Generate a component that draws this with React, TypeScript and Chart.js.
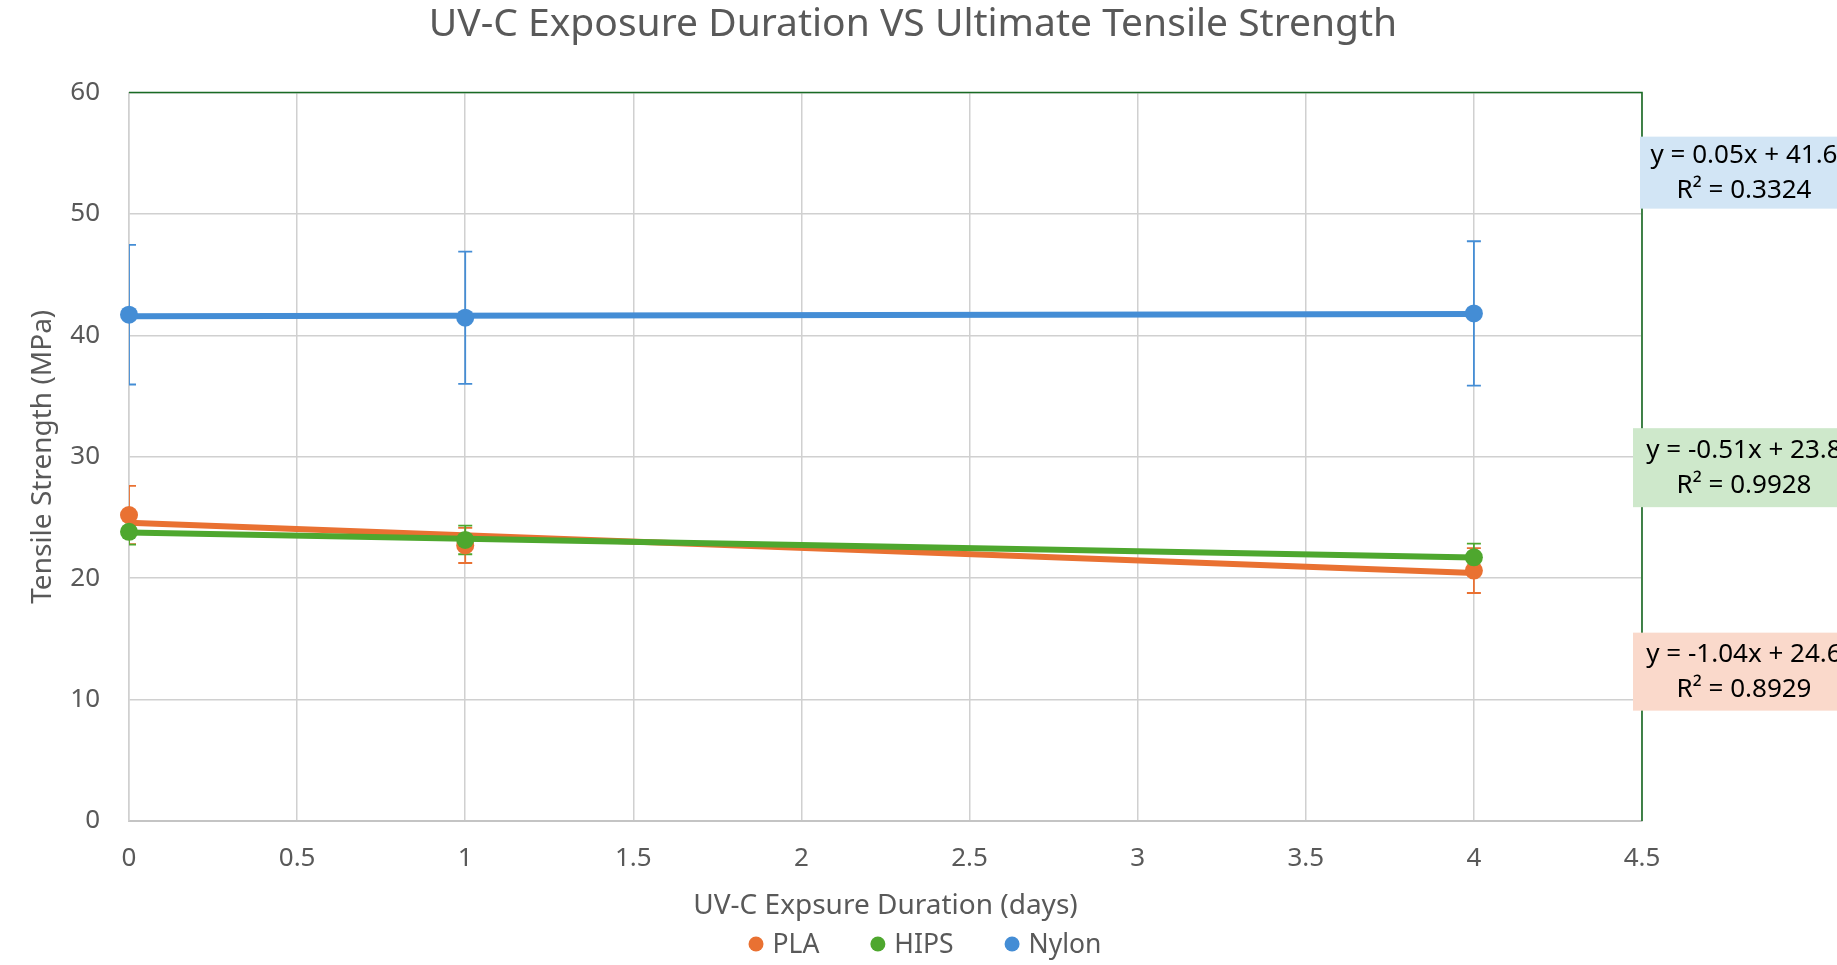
import React, { useRef, useEffect } from 'react';
import { Chart, registerables } from 'chart.js';

Chart.register(...registerables);

// exposure days and measured tensile strength (MPa) with std. deviation
const days = [0, 1, 4];
const plaStrength = [25.2, 22.7, 20.63];
const plaError = [2.4, 1.45, 1.85];
const hipsStrength = [23.82, 23.15, 21.72];
const hipsError = [1.06, 1.18, 1.12];
const nylonStrength = [41.7, 41.45, 41.8];
const nylonError = [5.75, 5.45, 5.95];

const seriesNames = ['PLA', 'HIPS', 'Nylon'];
const xTickStep = 0.5;
const yTickStep = 10;

// trendline labels as printed on the chart
const plaTrendText = ['y = -1.04x + 24.6', 'R² = 0.8929'];
const hipsTrendText = ['y = -0.51x + 23.8', 'R² = 0.9928'];
const nylonTrendText = ['y = 0.05x + 41.6', 'R² = 0.3324'];

const chartTitle = 'UV-C Exposure Duration VS Ultimate Tensile Strength';

const FONT = '"Noto Sans", sans-serif';
const GREY_TEXT = '#595959';
const COLORS = ['#E97132', '#4EA72E', '#448DD5'];
const BOX_COLORS = ['#FAD9CB', '#CEE8CB', '#D2E5F5'];
const W = 1837;
const H = 965;

const linearFit = (xs: number[], ys: number[]) => {
  const n = xs.length;
  const mx = xs.reduce((a, b) => a + b, 0) / n;
  const my = ys.reduce((a, b) => a + b, 0) / n;
  let sxy = 0;
  let sxx = 0;
  xs.forEach((x, i) => {
    sxy += (x - mx) * (ys[i] - my);
    sxx += (x - mx) * (x - mx);
  });
  const slope = sxy / sxx;
  return { slope, intercept: my - slope * mx };
};

const toPoints = (ys: number[]) => days.map((d, i) => ({ x: d, y: ys[i] }));

const trendPoints = (ys: number[]) => {
  const { slope, intercept } = linearFit(days, ys);
  const x0 = Math.min(...days);
  const x1 = Math.max(...days);
  return [
    { x: x0, y: intercept + slope * x0 },
    { x: x1, y: intercept + slope * x1 },
  ];
};

// vertical error bars, clipped to the plot area like Excel does
const errorBars = {
  id: 'errorBars',
  beforeDatasetsDraw(chart: any) {
    const { ctx, chartArea, scales } = chart;
    ctx.save();
    ctx.beginPath();
    ctx.rect(chartArea.left, chartArea.top, chartArea.right - chartArea.left, chartArea.bottom - chartArea.top);
    ctx.clip();
    chart.data.datasets.forEach((ds: any) => {
      if (!ds.errors) return;
      ctx.strokeStyle = ds.backgroundColor;
      ctx.lineWidth = 1.8;
      ds.data.forEach((p: any, i: number) => {
        const x = scales.x.getPixelForValue(p.x);
        const yTop = scales.y.getPixelForValue(p.y + ds.errors[i]);
        const yBot = scales.y.getPixelForValue(p.y - ds.errors[i]);
        ctx.beginPath();
        ctx.moveTo(x, yTop);
        ctx.lineTo(x, yBot);
        ctx.moveTo(x - 7, yTop);
        ctx.lineTo(x + 7, yTop);
        ctx.moveTo(x - 7, yBot);
        ctx.lineTo(x + 7, yBot);
        ctx.stroke();
      });
    });
    ctx.restore();
  },
};

// plot-area border (top and right in dark green)
const plotBorder = {
  id: 'plotBorder',
  afterDraw(chart: any) {
    const { ctx, chartArea } = chart;
    ctx.save();
    ctx.strokeStyle = '#196B24';
    ctx.lineWidth = 1.6;
    ctx.beginPath();
    ctx.moveTo(chartArea.left, chartArea.top);
    ctx.lineTo(chartArea.right, chartArea.top);
    ctx.lineTo(chartArea.right, chartArea.bottom);
    ctx.stroke();
    ctx.restore();
  },
};

// chart title, centred over the whole chart object (not just the plot)
const topTitle = {
  id: 'topTitle',
  afterDraw(chart: any) {
    const { ctx } = chart;
    ctx.save();
    ctx.font = `39px ${FONT}`;
    ctx.fillStyle = GREY_TEXT;
    ctx.textAlign = 'center';
    ctx.textBaseline = 'alphabetic';
    ctx.fillText(chartTitle, 913, 36);
    ctx.restore();
  },
};

// trendline equation boxes to the right of the plot
const trendBoxes = {
  id: 'trendBoxes',
  afterDraw(chart: any) {
    const { ctx, chartArea, scales } = chart;
    const boxes = [
      { text: plaTrendText, at: 12.3, dx: -9, h: 78 },
      { text: hipsTrendText, at: 29.1, dx: -9, h: 79 },
      { text: nylonTrendText, at: 53.4, dx: -2, h: 72 },
    ];
    ctx.save();
    boxes.forEach((b, i) => {
      const cy = scales.y.getPixelForValue(b.at);
      const left = chartArea.right + b.dx;
      ctx.fillStyle = BOX_COLORS[i];
      ctx.fillRect(left, cy - b.h / 2, W - left, b.h);
      ctx.fillStyle = '#000';
      ctx.font = `26px ${FONT}`;
      ctx.textAlign = 'center';
      ctx.textBaseline = 'middle';
      ctx.fillText(b.text[0], 1744, cy - 17);
      ctx.fillText(b.text[1], 1744, cy + 18);
    });
    ctx.restore();
  },
};

// legend row under the axis title
const bottomLegend = {
  id: 'bottomLegend',
  afterDraw(chart: any) {
    const { ctx } = chart;
    ctx.save();
    ctx.font = `26.5px ${FONT}`;
    ctx.textBaseline = 'middle';
    ctx.textAlign = 'left';
    const r = 7.5;
    const gapText = 9;
    const gapItem = 51;
    const widths = seriesNames.map((n) => 2 * r + gapText + ctx.measureText(n).width);
    const total = widths.reduce((a, b) => a + b, 0) + gapItem * (widths.length - 1);
    let x = 925 - total / 2;
    const y = 944;
    seriesNames.forEach((n, i) => {
      ctx.fillStyle = COLORS[i];
      ctx.beginPath();
      ctx.arc(x + r, y, r, 0, Math.PI * 2);
      ctx.fill();
      ctx.fillStyle = GREY_TEXT;
      ctx.fillText(n, x + 2 * r + gapText, y + 1);
      x += widths[i] + gapItem;
    });
    ctx.restore();
  },
};

const pointSet = (label: string, ys: number[], errs: number[], color: string, order: number) => ({
  label,
  data: toPoints(ys),
  errors: errs,
  backgroundColor: color,
  borderColor: color,
  pointRadius: 9,
  pointHoverRadius: 9,
  pointBorderWidth: 0,
  showLine: false,
  clip: false,
  order,
});

const trendSet = (label: string, ys: number[], color: string, order: number) => ({
  label,
  data: trendPoints(ys),
  borderColor: color,
  backgroundColor: color,
  borderWidth: 6,
  pointRadius: 0,
  showLine: true,
  order,
});

const App: React.FC = () => {
  const canvasRef = useRef<HTMLCanvasElement>(null);
  const chartRef = useRef<Chart | null>(null);

  useEffect(() => {
    if (!canvasRef.current) return;
    const ctx = canvasRef.current.getContext('2d');
    if (!ctx) return;

    chartRef.current = new Chart(ctx, {
      type: 'scatter',
      data: {
        datasets: [
          pointSet(seriesNames[0], plaStrength, plaError, COLORS[0], 3),
          pointSet(seriesNames[1], hipsStrength, hipsError, COLORS[1], 2),
          pointSet(seriesNames[2], nylonStrength, nylonError, COLORS[2], 1),
          trendSet('PLA trend', plaStrength, COLORS[0], 5),
          trendSet('HIPS trend', hipsStrength, COLORS[1], 4),
          trendSet('Nylon trend', nylonStrength, COLORS[2], 6),
        ] as any,
      },
      options: {
        responsive: false,
        animation: false,
        devicePixelRatio: 1,
        layout: { padding: { top: 92.5, left: 0, right: 195, bottom: 42 } },
        plugins: {
          legend: { display: false },
          tooltip: { enabled: false },
          title: { display: false },
        },
        scales: {
          x: {
            type: 'linear',
            min: 0,
            max: 4.5,
            afterFit: (scale: any) => {
              scale.height = 102;
            },
            ticks: {
              stepSize: xTickStep,
              color: GREY_TEXT,
              padding: 22,
              font: { family: FONT, size: 26 },
              callback: (value: any) => String(Number(value)),
            },
            grid: { color: '#D0D0D0', lineWidth: 1.5, drawTicks: false },
            border: { color: '#C4C4C4', width: 2 },
            title: {
              display: true,
              text: 'UV-C Expsure Duration (days)',
              color: GREY_TEXT,
              font: { family: FONT, size: 28 },
              padding: { top: 0, bottom: 0 },
            },
          },
          y: {
            type: 'linear',
            min: 0,
            max: 60,
            afterFit: (scale: any) => {
              scale.width = 129;
            },
            ticks: {
              stepSize: yTickStep,
              color: GREY_TEXT,
              padding: 29,
              font: { family: FONT, size: 26 },
            },
            grid: { color: '#D0D0D0', lineWidth: 1.5, drawTicks: false },
            border: { color: '#D0D0D0', width: 1.5 },
            title: {
              display: true,
              text: 'Tensile Strength (MPa)',
              color: GREY_TEXT,
              font: { family: FONT, size: 28 },
              padding: { top: 26, bottom: 0 },
            },
          },
        },
      },
      plugins: [errorBars, plotBorder, topTitle, trendBoxes, bottomLegend],
    });

    return () => {
      if (chartRef.current) {
        chartRef.current.destroy();
        chartRef.current = null;
      }
    };
  }, []);

  return (
    <div style={{ position: 'fixed', left: 0, top: 0, width: W, height: H, background: '#fff' }}>
      <canvas ref={canvasRef} width={W} height={H} style={{ display: 'block', width: W, height: H }} />
    </div>
  );
};

export default App;
